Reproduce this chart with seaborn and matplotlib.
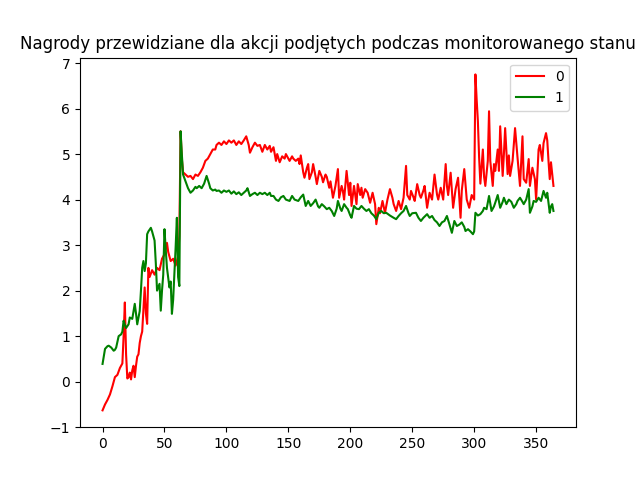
import matplotlib
matplotlib.use("Agg")
import matplotlib.pyplot as plt
import seaborn as sns
import pandas as pd

title = "Nagrody przewidziane dla akcji podjętych podczas monitorowanego stanu"
series_names = ["0", "1"]
series_colors = ["red", "green"]

red_x = [0, 2, 4, 6, 8, 10, 12, 14, 16, 17, 18, 19, 20, 21, 22, 23, 24, 25, 26, 27, 28, 29, 30, 31, 32, 33, 34, 35, 36, 37, 38, 40, 42, 44, 46, 48, 50, 52, 53, 55, 57, 59, 61, 62, 63, 64, 65, 67, 69, 71, 73, 75, 77, 79, 81, 83, 85, 87, 89, 91, 92, 94, 96, 98, 100, 102, 104, 106, 108, 110, 112, 114, 116, 118, 119, 121, 123, 125, 127, 129, 131, 133, 135, 136, 138, 140, 141, 143, 145, 147, 148, 150, 151, 153, 154, 156, 158, 159, 160, 162, 163, 165, 166, 167, 169, 170, 172, 173, 175, 177, 178, 180, 181, 183, 184, 186, 188, 190, 191, 193, 194, 195, 197, 199, 200, 201, 203, 205, 206, 208, 209, 210, 212, 214, 216, 218, 220, 221, 223, 224, 226, 228, 230, 232, 234, 235, 237, 239, 241, 243, 245, 246, 248, 249, 251, 252, 254, 256, 257, 259, 260, 262, 264, 266, 268, 270, 271, 273, 275, 277, 278, 279, 281, 283, 285, 287, 289, 290, 292, 294, 296, 298, 300, 301, 302, 303, 304, 305, 307, 308, 309, 311, 312, 313, 315, 316, 317, 319, 320, 321, 323, 324, 325, 327, 328, 329, 331, 333, 335, 337, 339, 340, 342, 344, 345, 347, 349, 350, 352, 353, 355, 356, 358, 359, 360, 361, 362, 364]
red_y = [-0.63, -0.5, -0.4, -0.28, -0.1, 0.1, 0.15, 0.3, 0.4, 1.0, 1.74, 0.6, 0.07, 0.1, 0.2, 0.05, 0.25, 0.35, 0.1, 0.35, 0.55, 0.6, 0.85, 1.0, 1.1, 1.6, 2.07, 1.5, 1.27, 2.5, 2.3, 2.45, 2.35, 2.5, 2.45, 2.7, 2.8, 3.05, 2.85, 2.65, 2.7, 2.55, 2.75, 3.2, 5.5, 4.9, 4.6, 4.55, 4.5, 4.52, 4.45, 4.55, 4.52, 4.6, 4.7, 4.85, 4.9, 5.0, 5.1, 5.1, 5.2, 5.25, 5.2, 5.28, 5.22, 5.3, 5.25, 5.3, 5.2, 5.28, 5.22, 5.3, 5.39, 5.2, 5.03, 5.15, 5.25, 5.18, 5.2, 5.05, 5.2, 5.1, 5.18, 5.05, 5.15, 4.85, 5.0, 4.82, 4.95, 4.9, 5.0, 4.9, 4.85, 4.95, 4.9, 4.85, 4.9, 4.78, 4.97, 4.6, 4.48, 4.7, 4.78, 4.45, 4.6, 4.78, 4.5, 4.34, 4.63, 4.5, 4.38, 4.55, 4.5, 4.26, 4.4, 4.04, 4.3, 4.67, 4.04, 4.3, 4.19, 4.0, 4.63, 4.1, 4.37, 3.86, 4.3, 3.9, 4.34, 4.1, 4.26, 4.04, 4.23, 4.15, 3.93, 4.15, 3.9, 3.46, 3.82, 3.7, 3.97, 3.71, 4.0, 4.23, 4.04, 3.9, 3.75, 3.97, 3.79, 4.04, 4.74, 4.1, 4.0, 4.19, 4.05, 3.97, 4.34, 4.1, 4.04, 4.2, 4.3, 3.82, 4.15, 4.0, 4.55, 4.11, 4.0, 4.26, 4.0, 4.78, 4.3, 4.1, 4.59, 3.82, 4.23, 4.48, 3.6, 4.2, 4.67, 4.0, 3.82, 4.1, 4.0, 6.75, 6.2, 5.72, 4.92, 4.35, 5.1, 4.5, 4.3, 4.85, 5.94, 4.85, 4.3, 4.78, 4.63, 5.1, 4.63, 5.61, 4.52, 5.0, 5.57, 4.56, 4.97, 4.52, 4.85, 5.57, 4.92, 4.3, 5.39, 4.45, 4.37, 4.89, 4.3, 4.7, 4.45, 4.0, 5.1, 5.2, 4.85, 5.24, 5.46, 5.3, 4.85, 4.45, 4.82, 4.3]

green_x = [0, 1, 2, 4, 5, 7, 9, 10, 11, 13, 15, 16, 17, 18, 19, 21, 22, 24, 26, 27, 28, 30, 31, 32, 33, 34, 35, 36, 37, 39, 40, 42, 43, 44, 46, 47, 48, 49, 50, 51, 52, 54, 55, 56, 57, 59, 60, 61, 62, 63, 64, 65, 67, 69, 71, 73, 75, 76, 78, 80, 82, 84, 86, 87, 89, 91, 92, 94, 96, 98, 100, 102, 104, 106, 108, 110, 112, 114, 116, 117, 119, 121, 123, 125, 127, 129, 131, 133, 135, 136, 138, 140, 142, 144, 146, 148, 151, 153, 155, 158, 160, 162, 164, 166, 168, 170, 172, 174, 175, 177, 179, 181, 183, 185, 187, 189, 190, 192, 193, 195, 197, 198, 200, 201, 203, 205, 207, 209, 211, 213, 215, 217, 219, 221, 223, 225, 227, 229, 232, 235, 237, 239, 241, 243, 245, 247, 248, 250, 253, 255, 257, 259, 262, 264, 266, 268, 270, 272, 274, 276, 278, 280, 282, 284, 286, 288, 290, 292, 293, 295, 297, 299, 300, 301, 303, 305, 307, 308, 310, 312, 314, 316, 317, 319, 321, 323, 324, 326, 328, 330, 332, 334, 335, 337, 339, 340, 342, 344, 345, 347, 348, 350, 352, 354, 356, 358, 359, 361, 362, 363, 364]
green_y = [0.39, 0.55, 0.72, 0.78, 0.79, 0.75, 0.68, 0.7, 0.75, 1.0, 1.04, 1.1, 1.34, 1.25, 1.18, 1.26, 1.41, 1.38, 1.71, 1.5, 1.26, 1.55, 2.0, 2.5, 2.65, 2.43, 2.6, 3.24, 3.3, 3.38, 3.3, 3.1, 2.6, 2.0, 2.15, 1.56, 2.0, 2.35, 3.35, 2.9, 2.5, 2.07, 2.2, 1.49, 1.8, 2.95, 3.6, 2.3, 2.1, 5.5, 5.0, 4.55, 4.4, 4.25, 4.15, 4.2, 4.28, 4.25, 4.3, 4.25, 4.35, 4.52, 4.35, 4.25, 4.2, 4.22, 4.19, 4.2, 4.15, 4.2, 4.17, 4.2, 4.13, 4.18, 4.12, 4.16, 4.1, 4.15, 4.2, 4.25, 4.08, 4.12, 4.15, 4.1, 4.15, 4.12, 4.15, 4.1, 4.15, 4.08, 4.08, 4.0, 3.97, 4.05, 4.08, 4.0, 3.97, 4.08, 4.0, 3.97, 4.05, 4.11, 3.86, 3.97, 3.86, 3.92, 4.0, 3.85, 3.82, 3.9, 3.85, 3.79, 3.82, 3.75, 3.64, 3.8, 3.97, 3.8, 3.75, 3.9, 3.82, 3.79, 3.65, 3.6, 3.86, 3.8, 3.79, 3.86, 3.8, 3.75, 3.79, 3.7, 3.65, 3.57, 3.71, 3.75, 3.7, 3.71, 3.65, 3.6, 3.57, 3.64, 3.7, 3.75, 3.86, 3.7, 3.64, 3.7, 3.71, 3.6, 3.53, 3.6, 3.68, 3.6, 3.64, 3.55, 3.5, 3.42, 3.5, 3.53, 3.64, 3.46, 3.27, 3.53, 3.42, 3.45, 3.5, 3.4, 3.31, 3.35, 3.3, 3.24, 3.3, 3.71, 3.65, 3.68, 3.75, 3.82, 3.79, 4.08, 3.75, 3.85, 3.93, 4.1, 3.82, 3.95, 4.04, 3.9, 4.0, 3.95, 3.82, 3.9, 3.97, 4.04, 3.95, 3.9, 4.0, 4.23, 3.71, 3.85, 3.97, 3.95, 4.04, 3.97, 4.19, 4.04, 4.15, 3.71, 3.85, 3.9, 3.75]

df = pd.concat([
    pd.DataFrame({"step": red_x, "value": red_y, "series": series_names[0]}),
    pd.DataFrame({"step": green_x, "value": green_y, "series": series_names[1]}),
], ignore_index=True)

fig, ax = plt.subplots(figsize=(6.4, 4.8), dpi=100)
sns.lineplot(data=df, x="step", y="value", hue="series",
             palette=dict(zip(series_names, series_colors)),
             estimator=None, linewidth=1.5, ax=ax)
ax.set_xlabel("")
ax.set_ylabel("")
ax.set_title(title)
ax.legend(loc="upper right")
ax.set_yticks(range(-1, 8))
fig.savefig("out.png", dpi=100)
